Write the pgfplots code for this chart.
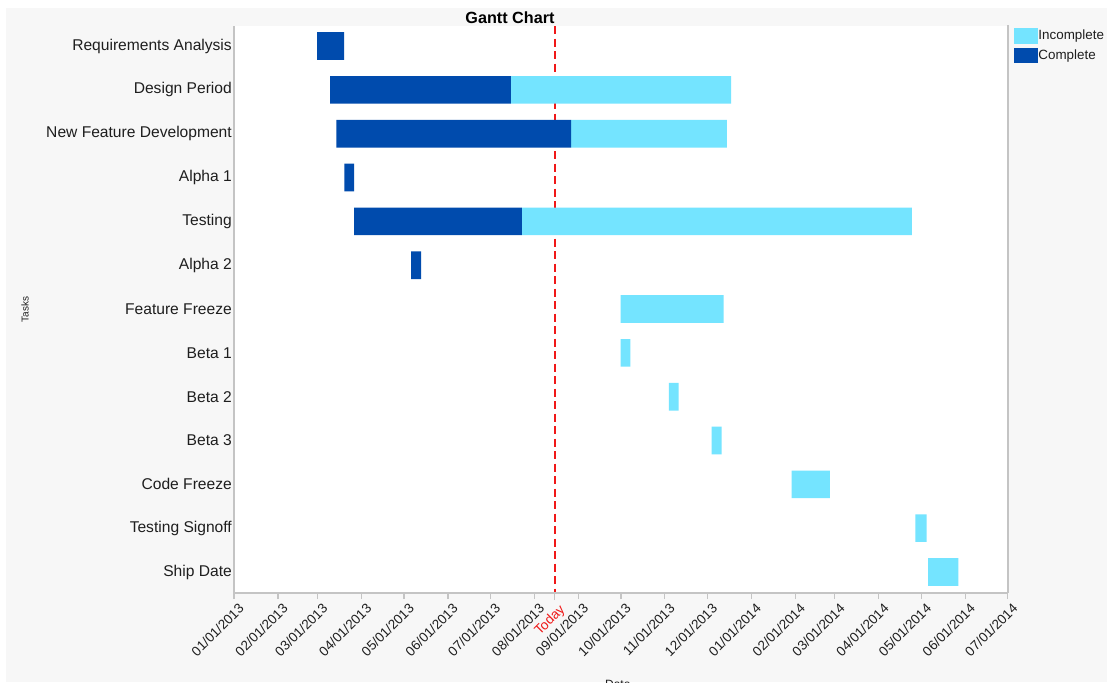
\documentclass[border=0pt]{standalone}
\usepackage{pgfplots}
\usepackage{pgfplotstable}
\pgfplotsset{compat=1.18}
\usepackage{fontspec}
\setmainfont{Liberation Sans}
\definecolor{compl}{HTML}{004BAD}
\definecolor{incompl}{HTML}{74E4FF}
\definecolor{bggray}{HTML}{F7F7F7}
\definecolor{axgray}{HTML}{C4C4C4}
\definecolor{todayred}{HTML}{F01818}
\definecolor{txt}{HTML}{1E1E1E}

% days since 01/01/2013: start, complete length, incomplete length
\pgfplotstableread{
task start comp incomp
1 58.6 19.1 0
2 67.8 127.5 155.6
3 72.3 165.6 109.9
4 77.9 6.8 0
5 84.7 118.4 275.3
6 125.0 7.0 0
7 272.8 0 72.7
8 272.8 0 7.0
9 306.9 0 6.8
10 337.0 0 7.1
11 393.5 0 27.0
12 480.8 0 8.0
13 489.9 0 21.2
}\gantt

\begin{document}
\begin{tikzpicture}
\useasboundingbox (0pt,0pt) rectangle (1107pt,-682pt);
\fill[white] (0pt,0pt) rectangle (1107pt,-682pt);
\fill[bggray] (6pt,-8pt) rectangle (1107pt,-682pt);
\begin{axis}[
  at={(234pt,-593pt)}, anchor=south west,
  scale only axis, width=773.7pt, height=567pt,
  xbar stacked, bar width=0.63,
  xmin=0, xmax=546,
  ymin=0.543, ymax=13.479, y dir=reverse,
  clip=false,
  axis background/.style={fill=white},
  axis line style={draw=none},
  xtick pos=bottom, ytick pos=left,
  tick align=outside,
  major tick length=6pt,
  xtick style={draw=axgray, line width=1.3pt},
  ytick style={draw=none},
  xtick={0,31,59,90,120,151,181,212,243,273,304,334,365,396,424,455,485,516,546},
  xticklabels={01/01/2013,02/01/2013,03/01/2013,04/01/2013,05/01/2013,06/01/2013,07/01/2013,08/01/2013,09/01/2013,10/01/2013,11/01/2013,12/01/2013,01/01/2014,02/01/2014,03/01/2014,04/01/2014,05/01/2014,06/01/2014,07/01/2014},
  xticklabel style={rotate=45, anchor=north east, inner sep=0pt, text=txt,
    xshift=0.5pt, yshift=-5pt,
    font=\fontsize{13.5}{15}\selectfont},
  extra x ticks={226.2},
  extra x tick labels={\textcolor{todayred}{Today}},
  extra x tick style={grid=major,
    major grid style={draw=todayred, line width=2pt, dash pattern=on 8pt off 4.5pt},
    major tick length=7pt,
    tick style={draw=todayred, line width=2pt, dash pattern=on 8pt off 4.5pt}},
  ytick={1,...,13},
  yticklabels={Requirements Analysis,Design Period,New Feature Development,Alpha 1,Testing,Alpha 2,Feature Freeze,Beta 1,Beta 2,Beta 3,Code Freeze,Testing Signoff,Ship Date},
  yticklabel style={anchor=east, inner sep=0pt, xshift=4pt, text=txt,
    font=\fontsize{15.6}{18}\selectfont},
  title={Gantt Chart},
  title style={at={(axis description cs:0.3567,1.0035)}, anchor=center,
    font=\bfseries\fontsize{16.2}{18}\selectfont},
  xlabel={Date},
  xlabel style={at={(axis description cs:0.496,-0.148)}, anchor=north,
    font=\fontsize{12}{14}\selectfont, text=txt},
  ylabel={Tasks},
  ylabel style={at={(axis description cs:-0.270,0.5)}, anchor=center,
    font=\fontsize{10}{12}\selectfont, text=txt},
  legend style={at={(axis description cs:1.0083,0.996)}, anchor=north west,
    draw=none, fill=none, inner sep=0pt, outer sep=0pt,
    font=\fontsize{13.4}{15}\selectfont, text=txt,
    nodes={inner sep=1.2pt, xshift=2.5pt}, row sep=4.6pt},
  legend cell align=left,
]
\addlegendimage{legend image code/.code={\fill[incompl] (0pt,-7.2pt) rectangle (22.7pt,7.2pt);}}
\addlegendentry{Incomplete}
\addlegendimage{legend image code/.code={\fill[compl] (0pt,-7.2pt) rectangle (22.7pt,7.2pt);}}
\addlegendentry{Complete}
\addplot[xbar, draw=none, fill=none, forget plot] table[x=start, y=task] {\gantt};
\addplot[xbar, draw=none, fill=compl, forget plot] table[x=comp, y=task] {\gantt};
\addplot[xbar, draw=none, fill=incompl, forget plot] table[x=incomp, y=task] {\gantt};
\draw[axgray, line width=1.5pt] (axis description cs:0,1) -- (axis description cs:0,0) -- (axis description cs:1,0);
\draw[axgray, line width=2pt] (axis description cs:1,0) -- (axis description cs:1,1.002);
\end{axis}
\end{tikzpicture}
\end{document}
